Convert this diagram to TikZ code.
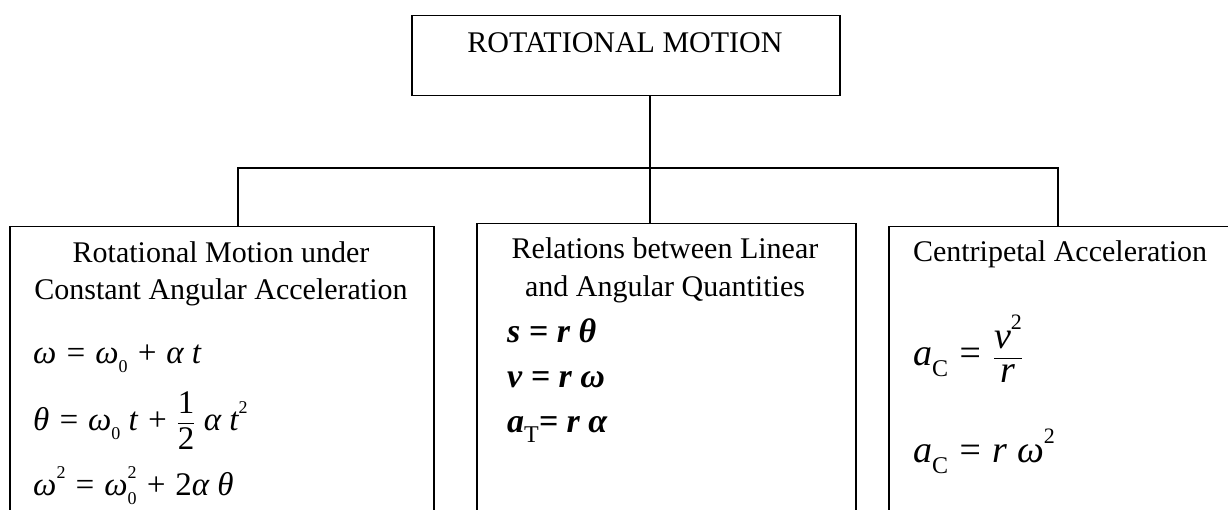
\documentclass[tikz,border=0pt]{standalone}
\usepackage{fontspec}
\setmainfont{Liberation Serif}
\usepackage{amsmath}
\newcommand{\Up}[2][18]{\raisebox{0.5em}{\fontsize{#1}{#1}\selectfont\upshape\mdseries #2}}
\newcommand{\Dn}[2][18]{\raisebox{-0.3em}{\fontsize{#1}{#1}\selectfont\upshape\mdseries #2}}
\newcommand{\UpDn}[3][18]{\rlap{\Up[#1]{#2}}\Dn[#1]{#3}}
\newcommand{\Frac}[2]{\ensuremath{\genfrac{}{}{1.1pt}{0}{\hbox{#1}}{\hbox{#2}}}}
\tikzset{
  frame/.style={draw, line width=1.5pt, inner sep=0pt, anchor=north west},
  txt/.style={font=\fontsize{30}{36}\selectfont, inner sep=0pt, anchor=base},
  eqn/.style={font=\fontsize{33}{38}\selectfont\itshape, inner sep=0pt, anchor=base west},
  beqn/.style={font=\fontsize{34}{38}\selectfont\bfseries\itshape, inner sep=0pt, anchor=base west},
  reqn/.style={font=\fontsize{38}{42}\selectfont\itshape, inner sep=0pt, anchor=base west},
  link/.style={line width=1.5pt},
}
\begin{document}
\begin{tikzpicture}[x=1pt, y=-1pt]
\clip (0,0) rectangle (1228,510);
\fill[white] (0,0) rectangle (1228,510);
% boxes
\node[frame, minimum width=428pt, minimum height=80pt] (top) at (411,15) {};
\node[frame, minimum width=424pt, minimum height=300pt] (b1) at (9,226) {};
\node[frame, minimum width=379pt, minimum height=300pt] (b2) at (476,223) {};
\node[frame, minimum width=343pt, minimum height=300pt] (b3) at (888,226) {};
% connectors
\coordinate (j) at (650,168);
\coordinate (bl) at (238,168);
\coordinate (br) at (1058,168);
\draw[link] (top.south -| j) -- (j |- b2.north);
\draw[link] (bl |- b1.north) -- (bl) -- (br) -- (br |- b3.north);
% texts
\node[txt] (t0) at (625,53) {ROTATIONAL MOTION};
\node[txt] (t1a) at (221,263) {Rotational Motion under};
\node[txt] (t1b) at (221,300) {Constant Angular Acceleration};
\node[txt] (t2a) at (665,259) {Relations between Linear};
\node[txt] (t2b) at (665,297) {and Angular Quantities};
\node[txt] (t3a) at (1060,262) {Centripetal Acceleration};
% left equations
\node[eqn] (e11) at (33,363) {ω = ω\Dn{0} + α t};
\node[eqn] (e12) at (33,430) {θ = ω\Dn{0} t + \Frac{\upshape 1}{\upshape 2} α t\Up{2}};
\node[eqn] (e13) at (33,495) {ω\Up{2} = ω\UpDn{2}{0} + \upshape 2\itshape α θ};
% middle equations
\node[beqn] (e21) at (507,342) {s = r θ};
\node[beqn] (e22) at (507,387) {v = r ω};
\node[beqn] (e23) at (507,432) {a\Dn[24]{T}= r α};
% right equations
\node[reqn] (e31) at (913,365) {a\Dn[24]{C} = \Frac{v\Up[22]{2}}{r}};
\node[reqn] (e32) at (913,462) {a\Dn[24]{C} = r ω\Up[22]{2}};
\end{tikzpicture}
\end{document}
